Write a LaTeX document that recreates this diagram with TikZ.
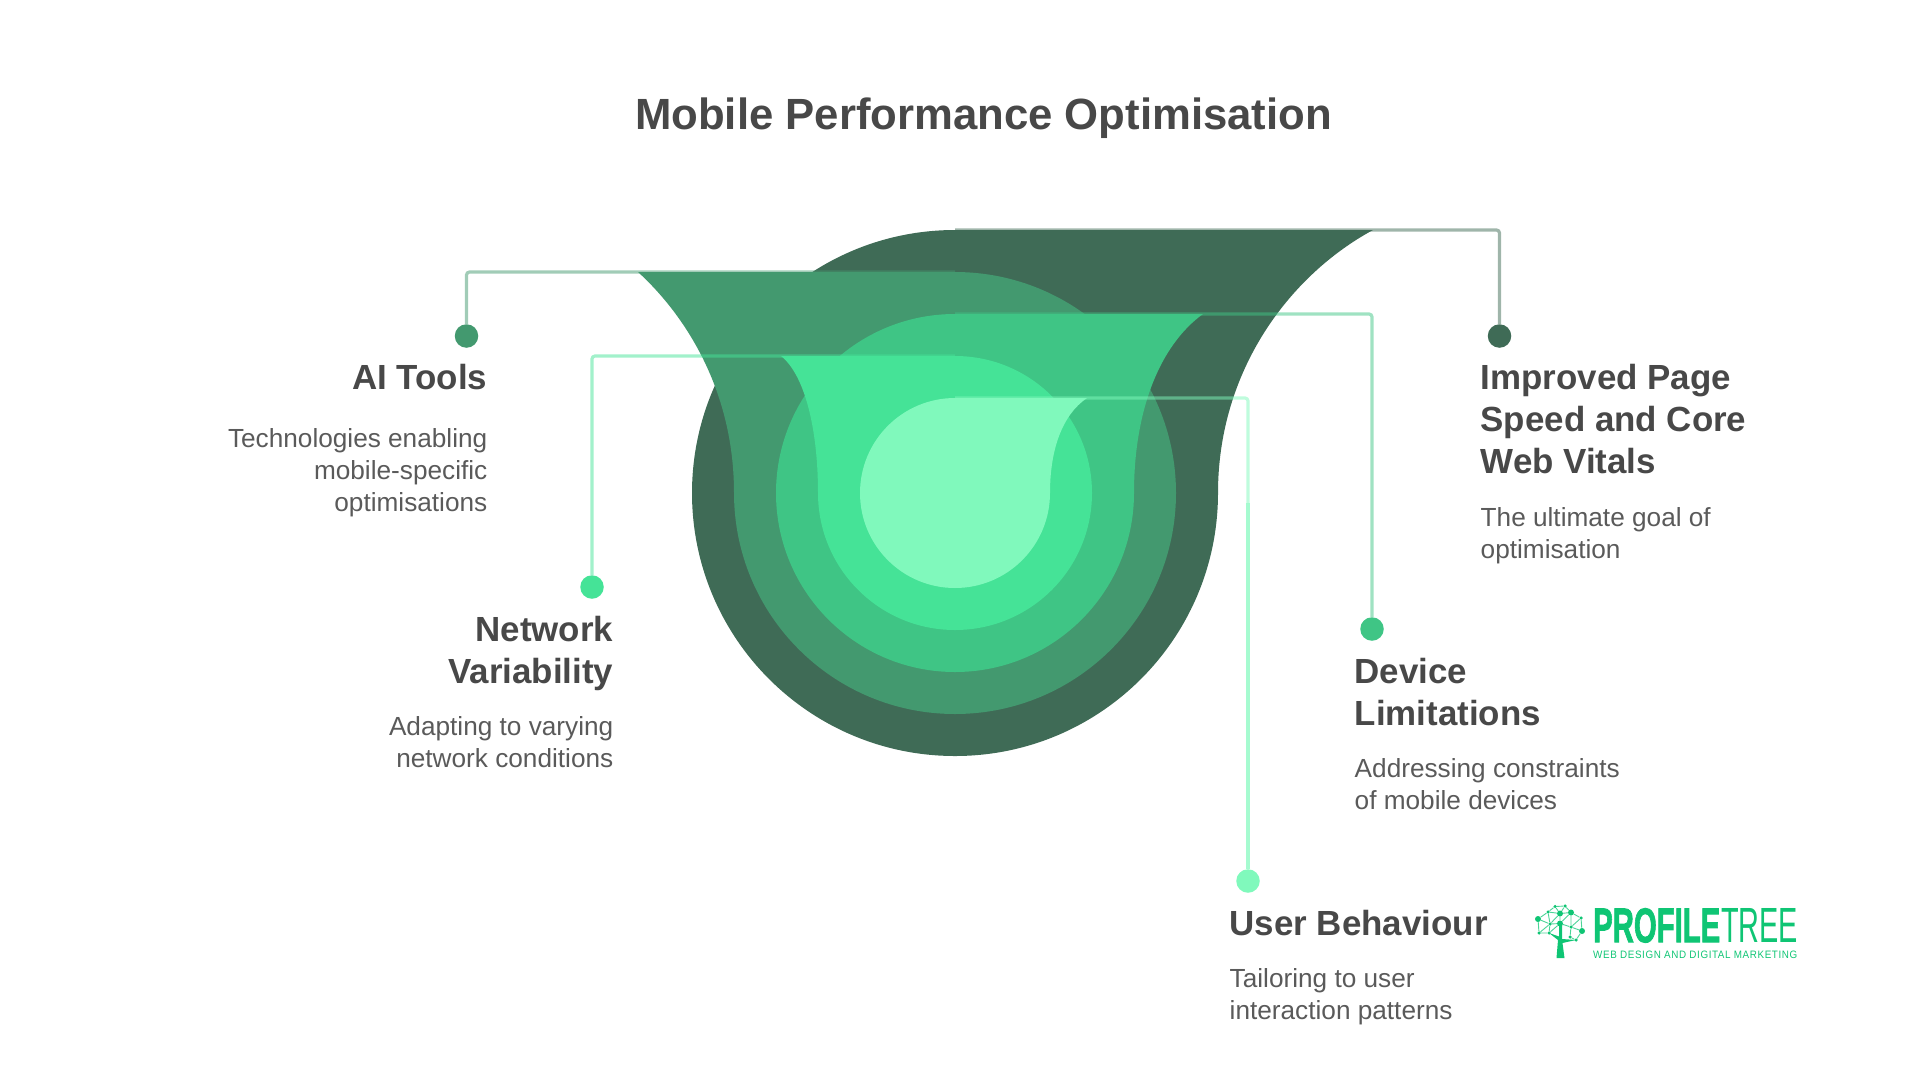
\documentclass[tikz,border=0pt]{standalone}
\usepackage{fontspec}
\setmainfont{Liberation Sans}
\newfontfamily\heavyf[BoldFeatures={FakeBold=2}]{Liberation Sans}
\definecolor{cA}{HTML}{3F6B56}
\definecolor{cB}{HTML}{43996F}
\definecolor{cC}{HTML}{3FC585}
\definecolor{cD}{HTML}{45E397}
\definecolor{cE}{HTML}{80F9BC}
\definecolor{headc}{HTML}{484848}
\definecolor{bodyc}{HTML}{5A5A5A}
\definecolor{logoc}{HTML}{0FC574}
\tikzset{
  conn/.style={line width=3.2pt,draw opacity=.5,rounded corners=3pt},
  enddot/.style={circle,inner sep=0pt,minimum size=23.5pt},
  titletext/.style={inner sep=0pt,font=\bfseries\fontsize{43.7}{50}\selectfont,text=headc},
  headL/.style={inner sep=0pt,align=left,anchor=north west,font=\bfseries\fontsize{34.9}{42}\selectfont,text=headc},
  headR/.style={inner sep=0pt,align=right,anchor=north east,font=\bfseries\fontsize{34.9}{42}\selectfont,text=headc},
  bodyL/.style={inner sep=0pt,align=left,anchor=north west,font=\fontsize{26.2}{32}\selectfont,text=bodyc},
  bodyR/.style={inner sep=0pt,align=right,anchor=north east,font=\fontsize{26.2}{32}\selectfont,text=bodyc},
  lg/.style={circle,fill=logoc,inner sep=0pt,minimum size=3.5pt},
  lgb/.style={circle,fill=logoc,inner sep=0pt,minimum size=6pt},
  lgline/.style={draw=logoc,line width=.9pt,draw opacity=.75},
}
\begin{document}
\begin{tikzpicture}[x=1pt,y=-1pt]
\useasboundingbox (0,0) rectangle (1920,1080);
% funnel shapes
\fill[cA] (955,230) arc[start angle=90,end angle=360,radius=263pt] .. controls (1218,370) and (1290,275) .. (1373,230) -- cycle;
\fill[cB] (955,272) arc[start angle=90,end angle=-180,radius=221pt] .. controls (734,390) and (685,315) .. (638,272) -- cycle;
\fill[cC] (955,314) arc[start angle=90,end angle=360,radius=179pt] .. controls (1134,410) and (1160,345) .. (1203,314) -- cycle;
\fill[cD] (955,356) arc[start angle=90,end angle=-180,radius=137pt] .. controls (818,430) and (805,375) .. (781,356) -- cycle;
\fill[cE] (955,398) arc[start angle=90,end angle=360,radius=95pt] .. controls (1050,450) and (1062,415) .. (1087,398) -- cycle;
% end dots
\node[enddot,fill=cA] (dotA) at (1499.5,336) {};
\node[enddot,fill=cB] (dotB) at (466.5,336) {};
\node[enddot,fill=cC] (dotC) at (1372,629) {};
\node[enddot,fill=cD] (dotD) at (592,587) {};
\node[enddot,fill=cE] (dotE) at (1248,881) {};
% connector starts
\coordinate (startA) at (955,230);
\coordinate (startB) at (955,272);
\coordinate (startC) at (955,314);
\coordinate (startD) at (955,356);
\coordinate (startE) at (955,398);
\coordinate (midE) at (1248,503);
\draw[conn,cA] (startA) -| (dotA);
\draw[conn,cB] (startB) -| (dotB);
\draw[conn,cC] (startC) -| (dotC);
\draw[conn,cD] (startD) -| (dotD);
\draw[conn,cE] (startE) -| (midE);
\draw[conn,cE,draw opacity=.7] (midE) -- (dotE);
% texts
\node[titletext] (title) at (983.5,118) {Mobile Performance Optimisation};
\node[headR] (h1) at (487.5,364) {AI Tools};
\node[bodyR] (b1) at (487.5,428) {Technologies enabling\\mobile-specific\\optimisations};
\node[headR] (h2) at (613.5,616) {Network\\Variability};
\node[bodyR] (b2) at (613.5,716) {Adapting to varying\\network conditions};
\node[headL] (h3) at (1480.5,364) {Improved Page\\Speed and Core\\Web Vitals};
\node[bodyL] (b3) at (1480.5,507) {The ultimate goal of\\optimisation};
\node[headL] (h4) at (1354.5,658) {Device\\Limitations};
\node[bodyL] (b4) at (1354.5,758) {Addressing constraints\\of mobile devices};
\node[headL] (h5) at (1229.5,910) {User Behaviour};
\node[bodyL] (b5) at (1229.5,968) {Tailoring to user\\interaction patterns};
% logo
\node[lgb] (n1) at (1538,919) {};
\node[lg] (n2) at (1548,912) {};
\node[lg] (n3) at (1555,906.5) {};
\node[lg] (n4) at (1565,906) {};
\node[lgb] (n5) at (1560,913.5) {};
\node[lgb] (n6) at (1571,912.5) {};
\node[lg] (n7) at (1581,918) {};
\node[lg] (n8) at (1550,924) {};
\node[lgb] (n9) at (1560,923.5) {};
\node[lg] (n10) at (1571,927) {};
\node[lgb] (n11) at (1582,931) {};
\node[lg] (n12) at (1576,940) {};
\node[lg] (n13) at (1539,933) {};
\node[lg] (n14) at (1549,933) {};
\node[lg] (n15) at (1570,937) {};
\draw[lgline] (n1)--(n2)--(n3)--(n4)--(n6)--(n7)--(n11)--(n12)--(n15)--(n10)--(n11);
\draw[lgline] (n1)--(n8)--(n2)--(n5)--(n3) (n4)--(n5)--(n6)--(n10)--(n7) (n5)--(n9)--(n8)--(n14)--(n13)--(n1) (n9)--(n10) (n8)--(n5) (n13)--(n8) (n14)--(n9) (n6)--(n9);
\fill[logoc] (1556.5,958) -- (1558,940) -- (1549,933) -- (1559,936.5) -- (1559,924) -- (1562,924) -- (1562,939) -- (1576,940) -- (1562.5,943) -- (1564.5,958) -- cycle;
\node[inner sep=0pt,anchor=north west,text=logoc] (brandA) at (1593,908) {\resizebox{127pt}{34pt}{\heavyf\bfseries PROFILE}};
\node[inner sep=0pt,anchor=north west,text=logoc] (brandB) at (1721,908) {\resizebox{77pt}{34pt}{TREE}};
\node[inner sep=0pt,anchor=north west,text=logoc] (brandC) at (1593,951) {\resizebox{204pt}{7.5pt}{\addfontfeature{LetterSpace=6}WEB DESIGN AND DIGITAL MARKETING}};
\end{tikzpicture}
\end{document}
